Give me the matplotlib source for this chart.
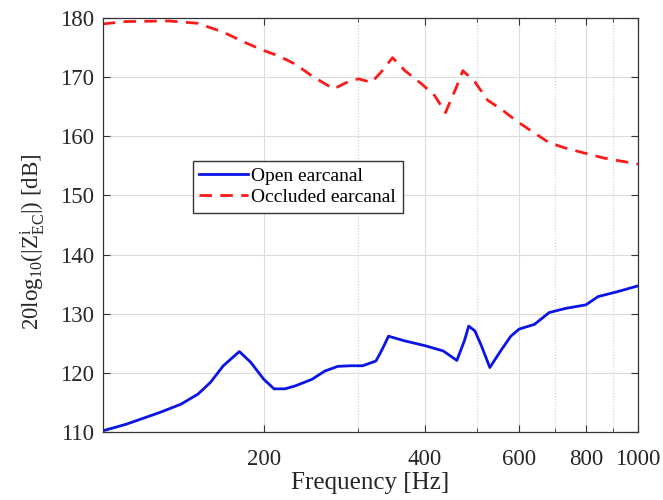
import matplotlib
matplotlib.use('Agg')
import matplotlib.pyplot as plt
from matplotlib.ticker import FixedLocator, FixedFormatter, NullFormatter

plt.rcParams['font.family'] = ['Liberation Serif', 'DejaVu Serif']
plt.rcParams['mathtext.fontset'] = 'custom'
plt.rcParams['mathtext.rm'] = 'Liberation Serif'
plt.rcParams['mathtext.it'] = 'Liberation Serif:italic'

# open earcanal (blue)
f_open = [100, 110.5, 127.8, 140, 150.6, 159, 168, 180, 189, 200, 209, 219, 229, 246,
          260, 275, 290, 306, 324, 333, 342, 367, 400, 433, 459, 474, 483, 496, 510,
          529, 554, 579, 600, 641, 683, 733, 800, 843, 914, 1000]
z_open = [110.2, 111.3, 113.3, 114.7, 116.4, 118.4, 121.2, 123.6, 121.8, 118.9, 117.3,
          117.3, 117.8, 118.9, 120.3, 121.1, 121.2, 121.2, 122.0, 124.0, 126.2, 125.4,
          124.6, 123.7, 122.1, 125.4, 127.9, 127.1, 124.6, 120.9, 123.7, 126.2, 127.4,
          128.2, 130.2, 130.9, 131.5, 132.9, 133.7, 134.7]

# occluded earcanal (red)
f_occ = [100, 110.5, 133, 150.6, 168, 184, 200, 213, 229, 246, 270, 290, 301, 318, 333,
         348, 367, 395, 417, 437, 458, 471, 496, 524, 559, 595, 635, 683, 733, 800, 866, 1000]
z_occ = [179.0, 179.4, 179.5, 179.1, 177.6, 175.9, 174.5, 173.6, 172.2, 170.2, 168.0,
         169.4, 169.7, 169.1, 171.1, 173.3, 171.1, 168.8, 166.9, 164.0, 168.3, 171.1,
         169.2, 166.1, 164.4, 162.5, 160.8, 158.9, 158.0, 157.1, 156.3, 155.3]

xticks = [200, 400, 600, 800, 1000]
minor_grid = [300, 500, 700, 900]

fig = plt.figure(figsize=(6.63, 5.0), dpi=100)
ax = fig.add_axes([0.155, 0.136, 0.807, 0.828])

ax.plot(f_open, z_open, color='#0a14e6', lw=2.0, label='Open earcanal')
ax.plot(f_occ, z_occ, color='#ff1a1a', lw=2.0, ls=(0, (4.5, 3)), label='Occluded earcanal')

ax.set_xscale('log')
ax.set_xlim(100, 1000)
ax.set_ylim(110, 180)
ax.xaxis.set_major_locator(FixedLocator(xticks))
ax.xaxis.set_major_formatter(FixedFormatter([str(t) for t in xticks]))
ax.xaxis.set_minor_locator(FixedLocator(minor_grid))
ax.xaxis.set_minor_formatter(NullFormatter())
ax.set_yticks(range(110, 181, 10))

ax.grid(True, which='major', color='#dcdcdc', lw=0.8)
ax.grid(True, which='minor', axis='x', color='#cfcfcf', lw=0.8, ls=':')
ax.set_axisbelow(True)

ax.tick_params(which='both', direction='in', top=True, right=True, labelsize=16.5,
               color='#333333', length=5, labelcolor='#262626')
ax.tick_params(which='minor', length=3)
ax.tick_params(axis='x', pad=12)
ax.tick_params(axis='y', pad=6)
for s in ax.spines.values():
    s.set_color('#333333')
    s.set_linewidth(0.9)

ax.set_xlabel('Frequency [Hz]', fontsize=18, color='#262626', labelpad=2)
ax.set_ylabel(r'20log$_{10}$(|Z$_{\rm EC}^{\rm i}$|) [dB]', fontsize=16.5, color='#262626')
ax.yaxis.set_label_coords(-0.105, 0.46)

leg = ax.legend(loc='lower left', bbox_to_anchor=(0.168, 0.529), fontsize=14,
                handlelength=2.5, handletextpad=0.15, borderpad=0.35, labelspacing=0.18,
                borderaxespad=0, fancybox=False, framealpha=1, edgecolor='#333333')
leg.get_frame().set_linewidth(1.0)

fig.savefig('out.png', dpi=100)
